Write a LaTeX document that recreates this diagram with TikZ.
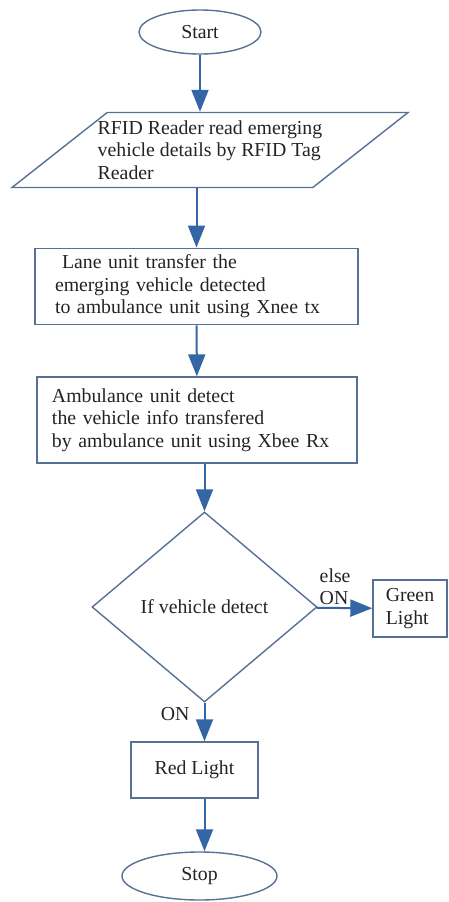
\documentclass[tikz,border=0pt]{standalone}
\usepackage{fontspec}
\setmainfont{Liberation Serif}
\usepackage{tikz}
\usetikzlibrary{shapes, arrows.meta, positioning}
\usepackage{xcolor}
\definecolor{edgeblue}{RGB}{52,101,164}
\definecolor{boxline}{RGB}{86,113,148}
\definecolor{inkgray}{RGB}{35,35,35}

\begin{document}
\begin{tikzpicture}[
    x=0.5pt, y=-0.5pt,
    every node/.style = {font=\fontsize{9.9}{11.25}\selectfont, text=inkgray},
    terminal/.style = {ellipse, draw=boxline, line width=0.7pt, inner sep=0pt},
    io/.style = {trapezium, trapezium left angle=37, trapezium right angle=143, trapezium stretches body, draw=boxline, line width=0.7pt, align=left, inner xsep=-8pt, inner ysep=3.2pt},
    process/.style = {rectangle, draw=boxline, line width=0.7pt, align=left},
    decision/.style = {diamond, draw=boxline, line width=0.7pt, inner sep=0pt, minimum width=112.5pt, minimum height=95pt},
    arrow/.style = {-{Triangle[length=11pt, width=8.5pt]}, draw=edgeblue, line width=1pt},
    tag/.style = {align=left, inner sep=1pt}
]
\useasboundingbox (0,0) rectangle (449,902);

% Main column
\node[terminal, minimum width=61pt, minimum height=22pt] (start) at (200,32) {Start};
\node[io, minimum width=198pt, minimum height=37.5pt] (rfid) at (210,150) {RFID Reader read emerging\\vehicle details by RFID Tag\\Reader};
\node[process, text width=141.5pt, inner xsep=10pt, minimum height=36.5pt] (lane) at (196.5,286.5) {\hspace*{3.5pt}Lane unit transfer the\\emerging vehicle detected\\to ambulance unit using Xnee tx};
\node[process, text width=145pt, inner xsep=7.5pt, minimum height=43pt] (amb) at (197,420) {Ambulance unit detect\\the vehicle info transfered\\by ambulance unit using Xbee Rx};
\node[decision] (detect) at (204.5,607) {If vehicle detect};
\node[process, minimum width=63.5pt, minimum height=28pt] (red) at (194.5,770) {Red Light};
\node[terminal, minimum width=77.5pt, minimum height=24pt] (stop) at (199.5,876) {Stop};

% Side branch
\node[process, inner xsep=6pt, minimum width=37pt, minimum height=28.5pt] (green) at (410,608.5) {Green\\Light};

% Edges
\draw[arrow] (start) -- (start |- rfid.north);
\draw[arrow] (rfid.south -| lane) -- (lane);
\draw[arrow] (lane) -- (amb);
\draw[arrow] (amb.south -| detect) -- (detect);

\draw[arrow] (detect) -- node[tag, pos=0, anchor=south west] {else\\ON} (green);
\draw[arrow] (detect) -- node[tag, pos=0.3, left=6pt] {ON} (detect |- red.north);

\draw[arrow] (red.south -| detect) -- (stop.north -| detect);

\end{tikzpicture}
\end{document}
